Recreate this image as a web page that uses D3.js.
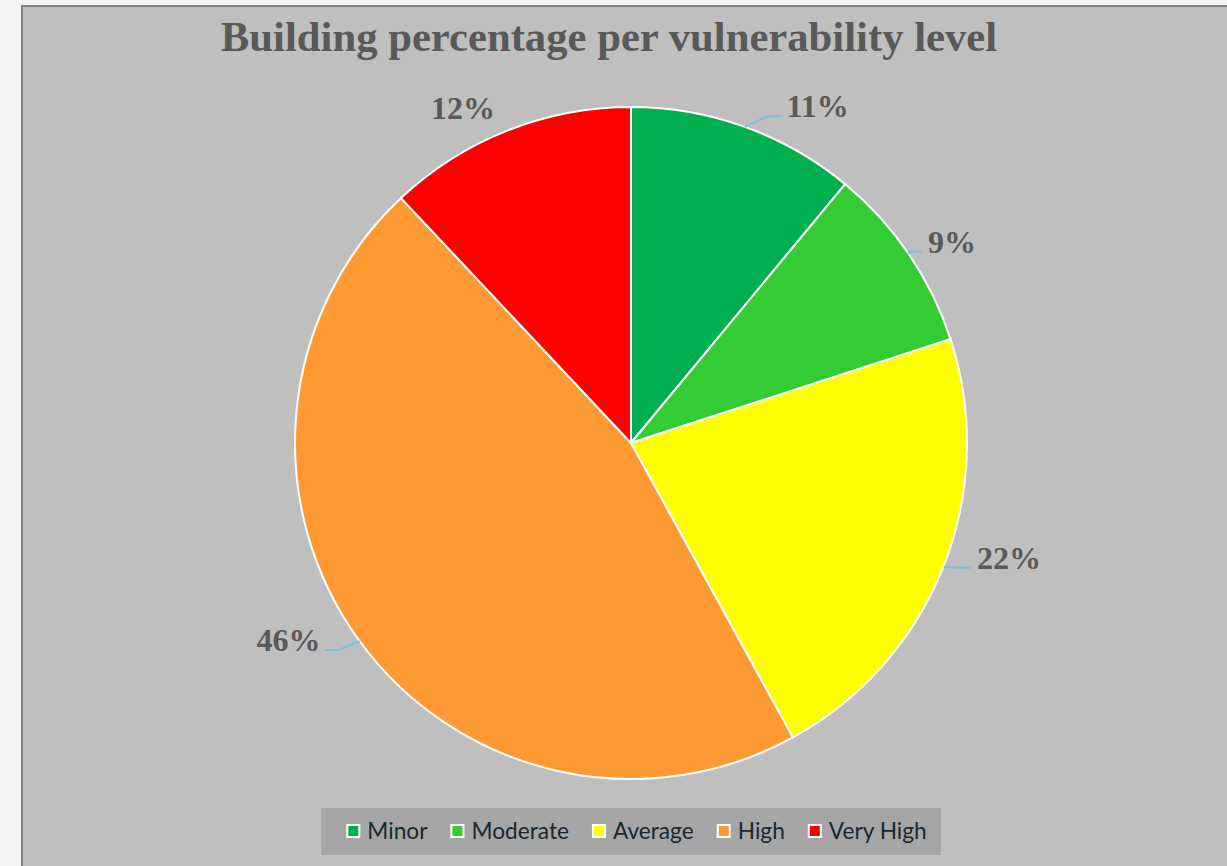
<!DOCTYPE html>
<html>
<head>
<meta charset="utf-8">
<script src="https://cdn.jsdelivr.net/npm/d3@7"></script>
<style>
  html, body { margin: 0; padding: 0; background: #f2f4f4; }
  svg { display: block; }
</style>
</head>
<body>
<svg id="chart" width="1227" height="866"></svg>
<script>
// Share of buildings in each vulnerability class (percent)
const categories = ["Minor", "Moderate", "Average", "High", "Very High"];
const shares = [11, 9, 22, 46, 12];
const sliceColors = ["#00b050", "#33cc33", "#ffff00", "#ff9933", "#ff0000"];
const chartTitle = "Building percentage per vulnerability level";

// Placement of the percentage labels around the pie (degrees clockwise from 12 o'clock, px from centre)
const labelLayout = {
  "Minor":     { angle: 29.0,  dist: 385, leader: true },
  "Moderate":  { angle: 57.9,  dist: 379, leader: true },
  "Average":   { angle: 106.9, dist: 395, leader: true },
  "High":      { angle: 240.1, dist: 395, leader: true, leaderAngle: 233.8 },
  "Very High": { angle: 333.4, dist: 375, leader: false }
};

const svg = d3.select("#chart");
const W = 1227, H = 866;

// chart area panel
svg.append("rect")
  .attr("x", 22).attr("y", 6)
  .attr("width", W + 20).attr("height", H + 20)
  .attr("fill", "#bfbfbf")
  .attr("stroke", "#808080").attr("stroke-width", 2);

svg.append("text")
  .attr("x", 609).attr("y", 51)
  .attr("text-anchor", "middle")
  .attr("font-family", "'Liberation Serif', 'Times New Roman', serif")
  .attr("font-weight", "bold")
  .attr("font-size", 42.7)
  .attr("fill", "#595959")
  .text(chartTitle);

const cx = 631, cy = 443, radius = 336;
const data = categories.map((c, i) => ({ name: c, value: shares[i], color: sliceColors[i] }));

const pie = d3.pie().value(d => d.value).sort(null);
const arcs = pie(data);
const arc = d3.arc().innerRadius(0).outerRadius(radius);

const g = svg.append("g").attr("transform", `translate(${cx},${cy})`);

g.selectAll("path.slice")
  .data(arcs)
  .join("path")
  .attr("class", "slice")
  .attr("d", arc)
  .attr("fill", d => d.data.color)
  .attr("stroke", "#ffffff")
  .attr("stroke-width", 2)
  .attr("stroke-linejoin", "round");

const rad = a => a * Math.PI / 180;
const polar = (a, r) => [r * Math.sin(rad(a)), -r * Math.cos(rad(a))];

const labelFont = 32;
const labels = g.selectAll("text.pct")
  .data(arcs)
  .join("text")
  .attr("class", "pct")
  .attr("text-anchor", "middle")
  .attr("font-family", "'Liberation Serif', 'Times New Roman', serif")
  .attr("font-weight", "bold")
  .attr("font-size", labelFont)
  .attr("fill", "#595959")
  .each(function(d) {
    const L = labelLayout[d.data.name];
    const [x, y] = polar(L.angle, L.dist);
    d.lx = x; d.ly = y;
    d3.select(this).attr("x", x).attr("y", y + 11);
  })
  .text(d => d3.format(".0%")(d.value / 100));

// leader lines from slice edge to label
labels.each(function(d) {
  const L = labelLayout[d.data.name];
  if (!L.leader) return;
  const w = this.getComputedTextLength();
  const mid = (d.startAngle + d.endAngle) / 2 * 180 / Math.PI;
  const a = L.leaderAngle !== undefined ? L.leaderAngle : mid;
  const start = polar(a, radius);
  const rightSide = d.lx > start[0];
  const endX = rightSide ? d.lx - w / 2 - 6 : d.lx + w / 2 + 5;
  const endY = d.ly + 10;
  const elbowX = rightSide ? endX - 13 : endX + 13;
  g.insert("path", "text")
    .attr("d", d3.line()([start, [elbowX, endY], [endX, endY]]))
    .attr("fill", "none")
    .attr("stroke", "#7fbfdf")
    .attr("stroke-width", 2);
});

// legend
const legend = svg.append("g");
legend.append("rect")
  .attr("x", 321).attr("y", 808)
  .attr("width", 620).attr("height", 47)
  .attr("fill", "#a6a6a6");

const items = legend.selectAll("g.item")
  .data(data)
  .join("g")
  .attr("class", "item");

items.append("rect")
  .attr("width", 12).attr("height", 12)
  .attr("y", 825)
  .attr("fill", d => d.color)
  .attr("stroke", "#ffffff")
  .attr("stroke-width", 2);

items.append("text")
  .attr("y", 839)
  .attr("font-family", "Lato, 'Open Sans', sans-serif")
  .attr("font-size", 22.7)
  .attr("fill", "#1b2730")
  .text(d => d.name);

const gap = 7, itemGap = 24, sw = 13;
const widths = [];
items.select("text").each(function() { widths.push(this.getComputedTextLength()); });
const total = widths.reduce((s, w) => s + sw + gap + w, 0) + itemGap * (widths.length - 1);
let x = 321 + (620 - total) / 2 + 6;
items.each(function(d, i) {
  const it = d3.select(this);
  it.select("rect").attr("x", x);
  it.select("text").attr("x", x + sw + gap);
  x += sw + gap + widths[i] + itemGap;
});
</script>
</body>
</html>
